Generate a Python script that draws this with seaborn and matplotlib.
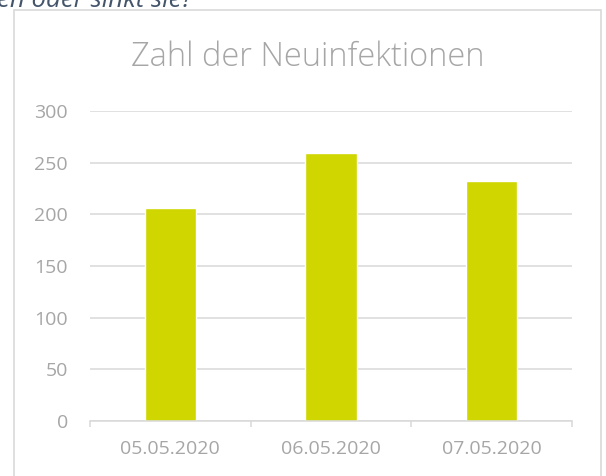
import pandas as pd
import matplotlib.pyplot as plt
import seaborn as sns
from matplotlib.patches import Rectangle

# Neuinfektionen pro Tag
dates = ['05.05.2020', '06.05.2020', '07.05.2020']
cases = [206, 259, 232]

df = pd.DataFrame({'Datum': dates, 'Neuinfektionen': cases})

sns.set_theme(style="white")
plt.rcParams['font.family'] = ['Open Sans', 'DejaVu Sans']

W, H = 606, 476
fig = plt.figure(figsize=(W / 100, H / 100), dpi=100)

# chart frame like the office chart box
fig.patches.append(Rectangle((14 / W, -0.05), (601 - 14) / W, 1.05 - 10 / H,
                             transform=fig.transFigure, fill=False,
                             edgecolor='#D9D9D9', linewidth=1.2))

# cut-off heading from the page above
fig.text(-3 / W, 1 - 7 / H, 'en oder sinkt sie?', style='italic', color='#44546A',
         fontsize=18.5, ha='left', va='baseline')

ax = fig.add_axes([90 / W, 1 - 421 / H, (572 - 90) / W, (421 - 111) / H])
sns.barplot(data=df, x='Datum', y='Neuinfektionen', color='#CFD600',
            width=0.32, saturation=1, ax=ax)

ax.set_ylim(0, 300)
ax.set_xlim(-0.5, 2.5)
ax.set_yticks(range(0, 301, 50))
ax.yaxis.grid(True, color='#D9D9D9', linewidth=1.1)
ax.set_axisbelow(True)
for s in ['top', 'right', 'left']:
    ax.spines[s].set_visible(False)
ax.spines['bottom'].set_color('#D9D9D9')
ax.spines['bottom'].set_linewidth(1.1)

# tick marks between categories
ax.set_xticks([-0.5, 0.5, 1.5, 2.5], minor=True)
ax.tick_params(axis='x', which='minor', length=4.5, width=1.1, color='#D9D9D9',
               direction='out', bottom=True)
ax.tick_params(axis='x', which='major', length=0, pad=14, labelsize=14,
               labelcolor='#A6A6A6')
ax.tick_params(axis='y', length=0, pad=16, labelsize=14, labelcolor='#A6A6A6')
ax.set_xlabel('')
ax.set_ylabel('')

fig.text(308 / W, 1 - 66 / H, 'Zahl der Neuinfektionen', fontsize=23.5,
         fontweight='light', color='#A6A6A6', ha='center', va='baseline')

fig.savefig('out.png', dpi=100)
